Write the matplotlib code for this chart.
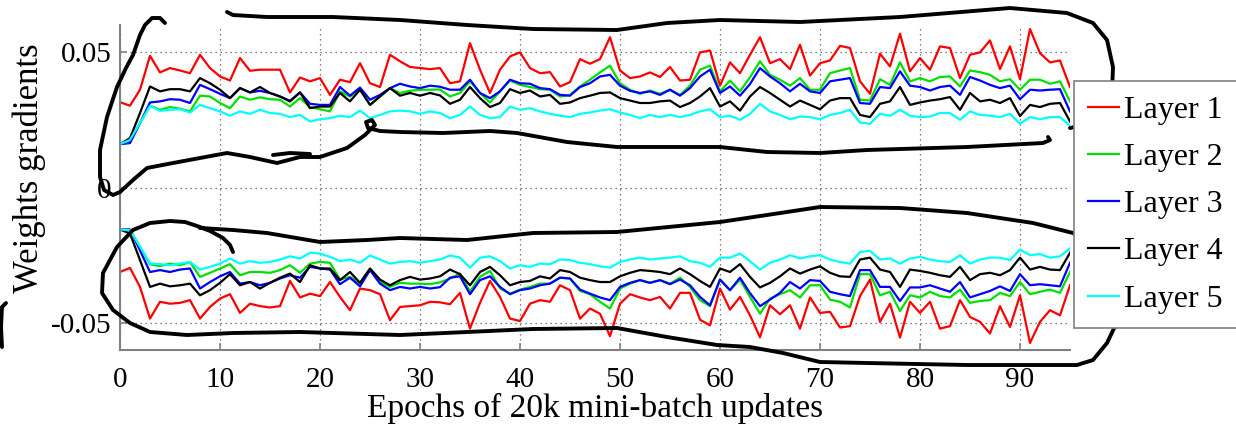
import numpy as np
import matplotlib
matplotlib.use("Agg")
import matplotlib.pyplot as plt
from matplotlib.lines import Line2D

plt.rcParams['font.family'] = ['Liberation Serif', 'DejaVu Serif']
plt.rcParams['axes.unicode_minus'] = False

# epochs 0..95, gradient values read in units of 1e-2
epochs = list(range(96))

layer1_pos = [3.15, 3.02, 3.61, 4.86, 4.25, 4.41, 4.32, 4.22, 4.90, 4.41,
              4.10, 3.95, 4.78, 4.31, 4.35, 4.35, 4.35, 3.51, 4.06, 3.92,
              4.04, 3.42, 3.98, 3.89, 4.59, 3.85, 3.71, 4.90, 4.66, 4.45,
              4.41, 4.37, 4.41, 3.85, 3.92, 5.33, 4.35, 3.49, 4.35, 4.84,
              4.99, 4.41, 4.22, 4.26, 3.73, 3.89, 4.74, 4.57, 4.74, 5.55,
              4.32, 4.04, 4.10, 4.25, 4.08, 4.45, 3.95, 3.98, 4.99, 5.06,
              3.76, 4.62, 4.22, 4.90, 5.55, 4.59, 4.74, 4.37, 5.27, 4.13,
              4.59, 4.69, 5.23, 5.15, 3.92, 3.46, 4.94, 4.47, 5.68, 4.29,
              4.78, 4.35, 5.21, 5.15, 4.04, 4.90, 4.99, 5.43, 4.37, 5.21,
              4.00, 5.85, 4.96, 4.62, 4.69, 3.71]
layer2_pos = [1.60, 1.70, 2.38, 3.02, 2.87, 2.97, 2.91, 2.81, 3.39, 3.36,
              3.12, 2.93, 3.36, 3.24, 3.33, 3.26, 3.24, 2.99, 3.30, 2.97,
              2.89, 2.81, 3.55, 3.36, 3.63, 3.05, 3.36, 3.67, 3.49, 3.57,
              3.61, 3.61, 3.62, 3.36, 3.49, 3.92, 3.49, 3.14, 3.55, 3.95,
              3.79, 3.71, 3.63, 3.61, 3.36, 3.42, 3.73, 3.98, 4.25, 4.50,
              3.85, 3.61, 3.46, 3.58, 3.46, 3.61, 3.42, 3.76, 4.35, 4.50,
              3.55, 3.95, 3.55, 4.07, 4.66, 4.16, 3.98, 3.76, 4.04, 3.61,
              3.61, 4.22, 4.32, 4.41, 3.24, 3.21, 4.00, 3.79, 4.62, 3.92,
              4.04, 3.92, 4.08, 4.10, 3.73, 4.32, 4.26, 4.16, 3.92, 4.00,
              3.61, 3.98, 3.98, 3.83, 3.92, 3.18]
layer3_pos = [1.60, 1.64, 2.38, 3.14, 3.18, 3.26, 3.24, 3.12, 3.79, 3.63,
              3.46, 3.30, 3.67, 3.51, 3.57, 3.49, 3.36, 3.20, 3.51, 3.09,
              3.05, 3.05, 3.71, 3.39, 3.69, 3.24, 3.42, 3.67, 3.83, 3.73,
              3.67, 3.76, 3.72, 3.61, 3.61, 3.98, 3.49, 3.30, 3.55, 3.98,
              3.85, 3.83, 3.67, 3.63, 3.42, 3.39, 3.71, 3.85, 4.10, 4.16,
              3.76, 3.57, 3.49, 3.55, 3.42, 3.61, 3.39, 3.67, 4.10, 4.35,
              3.49, 3.73, 3.39, 3.82, 4.41, 4.10, 3.85, 3.55, 3.83, 3.55,
              3.49, 3.92, 3.98, 4.04, 3.12, 3.09, 3.71, 3.67, 4.29, 3.76,
              3.71, 3.58, 3.71, 3.76, 3.42, 4.08, 3.95, 3.79, 3.67, 3.76,
              3.26, 3.61, 3.58, 3.61, 3.63, 2.81]
layer4_pos = [1.60, 1.82, 2.75, 3.73, 3.55, 3.63, 3.63, 3.55, 4.04, 3.85,
              3.61, 3.30, 3.67, 3.51, 3.71, 3.49, 3.36, 3.18, 3.51, 2.93,
              2.99, 2.99, 3.49, 3.18, 3.61, 3.05, 3.36, 3.67, 3.39, 3.49,
              3.39, 3.49, 3.40, 3.09, 3.24, 3.71, 3.30, 2.97, 3.12, 3.63,
              3.49, 3.58, 3.36, 3.42, 3.09, 3.14, 3.30, 3.39, 3.49, 3.51,
              3.30, 3.21, 3.12, 3.12, 3.18, 3.21, 2.97, 3.12, 3.36, 3.67,
              2.99, 3.18, 2.84, 3.36, 3.71, 3.49, 3.24, 2.99, 3.21, 3.05,
              2.89, 3.21, 3.30, 3.30, 2.68, 2.60, 3.09, 3.18, 3.71, 3.05,
              3.14, 3.21, 3.26, 3.34, 2.87, 3.49, 3.18, 3.24, 3.12, 3.30,
              2.64, 3.05, 2.97, 3.09, 3.12, 2.44]
layer5_pos = [1.60, 1.76, 2.38, 3.02, 2.83, 2.87, 2.89, 2.77, 3.05, 2.93,
              2.81, 2.65, 2.81, 2.72, 2.87, 2.75, 2.72, 2.60, 2.68, 2.44,
              2.52, 2.56, 2.65, 2.60, 2.84, 2.56, 2.68, 2.81, 2.84, 2.81,
              2.72, 2.81, 2.75, 2.56, 2.68, 2.99, 2.68, 2.56, 2.60, 2.99,
              2.87, 2.93, 2.81, 2.72, 2.65, 2.60, 2.72, 2.77, 2.84, 2.89,
              2.77, 2.68, 2.56, 2.68, 2.60, 2.68, 2.60, 2.68, 2.81, 2.89,
              2.60, 2.65, 2.50, 2.72, 3.09, 2.81, 2.68, 2.52, 2.62, 2.60,
              2.52, 2.68, 2.75, 2.87, 2.40, 2.35, 2.72, 2.65, 2.87, 2.65,
              2.60, 2.62, 2.75, 2.75, 2.50, 2.81, 2.68, 2.65, 2.60, 2.72,
              2.35, 2.60, 2.52, 2.60, 2.60, 2.28]

layer1_neg = [-3.12, -2.97, -3.67, -4.84, -4.22, -4.29, -4.26, -4.16, -4.84, -4.41,
              -4.10, -3.94, -4.63, -4.29, -4.38, -4.43, -4.38, -3.45, -4.06, -3.92,
              -4.01, -3.49, -4.04, -4.53, -3.73, -3.79, -3.94, -4.90, -4.41, -4.38,
              -4.35, -4.22, -4.24, -4.31, -3.89, -5.21, -4.26, -3.45, -4.04, -4.84,
              -4.93, -4.29, -4.16, -4.22, -3.61, -3.79, -4.84, -4.47, -4.66, -5.49,
              -4.29, -3.94, -4.06, -4.16, -4.04, -4.47, -3.89, -3.89, -4.88, -5.09,
              -3.73, -4.51, -4.04, -4.72, -5.53, -4.35, -4.68, -4.35, -5.21, -4.06,
              -4.63, -4.59, -5.17, -5.12, -4.01, -3.40, -4.96, -4.29, -5.54, -4.22,
              -4.63, -4.22, -5.21, -5.12, -4.16, -4.78, -4.96, -5.39, -4.38, -5.15,
              -3.98, -5.74, -4.96, -4.53, -4.72, -3.61]
layer2_neg = [-1.55, -1.58, -2.19, -2.84, -2.90, -2.81, -2.87, -2.75, -3.30, -3.15,
              -2.99, -2.83, -3.24, -3.12, -3.12, -3.15, -3.05, -2.87, -3.15, -2.81,
              -2.75, -2.78, -3.40, -3.30, -3.55, -3.03, -3.49, -3.67, -3.52, -3.55,
              -3.55, -3.57, -3.50, -3.36, -3.18, -3.85, -3.30, -3.08, -3.73, -3.92,
              -3.77, -3.67, -3.55, -3.55, -3.33, -3.36, -3.82, -3.94, -4.22, -4.47,
              -3.73, -3.55, -3.42, -3.52, -3.42, -3.55, -3.33, -3.67, -4.16, -4.38,
              -3.40, -3.79, -3.40, -4.04, -4.66, -4.10, -3.94, -3.79, -4.06, -3.61,
              -3.61, -4.14, -4.22, -4.43, -3.20, -3.20, -3.98, -3.85, -4.56, -3.98,
              -4.06, -3.85, -4.01, -4.06, -3.77, -4.26, -4.19, -4.16, -3.89, -4.01,
              -3.49, -3.94, -3.85, -3.77, -3.89, -3.12]
layer3_neg = [-1.55, -1.55, -2.32, -3.12, -3.05, -3.12, -3.03, -2.99, -3.73, -3.49,
              -3.28, -3.12, -3.55, -3.49, -3.61, -3.52, -3.36, -3.24, -3.33, -2.93,
              -2.99, -3.03, -3.57, -3.33, -3.65, -3.05, -3.55, -3.79, -3.67, -3.73,
              -3.67, -3.73, -3.68, -3.33, -3.28, -3.94, -3.42, -3.28, -3.67, -3.94,
              -3.79, -3.73, -3.61, -3.55, -3.33, -3.36, -3.77, -3.92, -4.06, -4.16,
              -3.67, -3.52, -3.42, -3.52, -3.42, -3.57, -3.40, -3.61, -4.04, -4.35,
              -3.40, -3.79, -3.33, -3.90, -4.38, -4.14, -3.89, -3.49, -3.73, -3.42,
              -3.45, -3.85, -3.94, -4.01, -3.05, -3.05, -3.67, -3.67, -4.19, -3.69,
              -3.69, -3.61, -3.73, -3.85, -3.49, -4.06, -3.94, -3.82, -3.65, -3.82,
              -3.20, -3.61, -3.57, -3.61, -3.65, -2.78]
layer4_neg = [-1.55, -1.70, -2.68, -3.67, -3.55, -3.65, -3.61, -3.55, -3.98, -3.79,
              -3.52, -3.20, -3.61, -3.49, -3.73, -3.52, -3.33, -3.18, -3.49, -2.87,
              -2.99, -2.99, -3.42, -3.12, -3.52, -2.99, -3.40, -3.61, -3.42, -3.30,
              -3.40, -3.36, -3.28, -3.03, -3.20, -3.61, -3.12, -2.93, -3.24, -3.61,
              -3.49, -3.45, -3.28, -3.36, -3.05, -3.12, -3.33, -3.42, -3.49, -3.49,
              -3.28, -3.15, -3.05, -3.08, -3.12, -3.20, -2.99, -3.20, -3.45, -3.67,
              -2.99, -3.12, -2.83, -3.30, -3.69, -3.52, -3.28, -2.99, -3.18, -3.03,
              -2.91, -3.15, -3.28, -3.30, -2.66, -2.59, -3.03, -3.12, -3.67, -3.03,
              -3.08, -3.15, -3.24, -3.30, -2.93, -3.42, -3.20, -3.15, -3.24, -3.05,
              -2.59, -3.03, -2.93, -3.03, -3.05, -2.41]
layer5_neg = [-1.55, -1.58, -2.19, -2.81, -2.83, -2.87, -2.81, -2.75, -3.03, -2.93,
              -2.81, -2.62, -2.81, -2.72, -2.78, -2.75, -2.66, -2.54, -2.62, -2.41,
              -2.44, -2.56, -2.72, -2.66, -2.78, -2.51, -2.66, -2.81, -2.75, -2.72,
              -2.78, -2.72, -2.66, -2.51, -2.59, -2.96, -2.59, -2.54, -2.72, -2.99,
              -2.87, -2.93, -2.81, -2.83, -2.66, -2.68, -2.78, -2.83, -2.91, -2.96,
              -2.75, -2.66, -2.59, -2.66, -2.62, -2.59, -2.54, -2.72, -2.78, -2.93,
              -2.59, -2.59, -2.44, -2.72, -3.03, -2.78, -2.66, -2.50, -2.62, -2.54,
              -2.50, -2.66, -2.75, -2.81, -2.38, -2.34, -2.66, -2.62, -2.81, -2.62,
              -2.56, -2.66, -2.72, -2.75, -2.50, -2.81, -2.66, -2.59, -2.59, -2.68,
              -2.29, -2.50, -2.46, -2.59, -2.54, -2.25]

labels = ['Layer 1', 'Layer 2', 'Layer 3', 'Layer 4', 'Layer 5']
colors = ['#ff0000', '#00e000', '#0000ff', '#000000', '#00ffff']
pos_series = [layer1_pos, layer2_pos, layer3_pos, layer4_pos, layer5_pos]
neg_series = [layer1_neg, layer2_neg, layer3_neg, layer4_neg, layer5_neg]

# hand drawn pen strokes on top of the figure (image pixel coords)
pen_top = [(227, 12), (233, 15), (267, 17), (333, 17), (400, 20), (467, 25), (533, 29),
           (617, 30), (667, 23), (720, 20), (800, 22), (900, 17), (1010, 8), (1067, 13),
           (1093, 23), (1107, 40), (1113, 67), (1112, 93), (1100, 113), (1083, 125), (1070, 128)]
pen_left = [(165, 23), (160, 18), (152, 18), (145, 25), (140, 35), (133, 55), (126, 68),
            (117, 87), (107, 117), (100, 150), (100, 177), (104, 190), (113, 195), (120, 192),
            (133, 180), (147, 168), (173, 163), (200, 158), (227, 153), (250, 157), (277, 163),
            (300, 157), (320, 157), (347, 148), (365, 135), (375, 125), (372, 120), (366, 122),
            (368, 128), (380, 131), (400, 132), (443, 133), (490, 131), (517, 133), (567, 142),
            (617, 147), (667, 147), (720, 147), (767, 152), (820, 153), (867, 150), (967, 147),
            (1043, 143), (1050, 140), (1048, 137)]
pen_short = [(273, 155), (290, 153), (310, 154)]
pen_bottom = [(233, 252), (230, 245), (223, 238), (210, 231), (200, 227), (185, 222), (170, 221),
              (150, 223), (133, 230), (117, 247), (103, 273), (102, 293), (113, 310), (130, 323),
              (150, 332), (187, 335), (233, 333), (300, 332), (333, 333), (400, 335), (467, 332),
              (533, 329), (617, 328), (667, 337), (717, 345), (750, 347), (783, 353), (820, 362),
              (867, 363), (967, 365), (1077, 365), (1093, 360), (1107, 343), (1118, 320),
              (1123, 287), (1117, 263), (1100, 247), (1073, 233), (1033, 223), (967, 213),
              (900, 208), (820, 207), (767, 215), (720, 222), (617, 232), (533, 233), (467, 240),
              (400, 238), (367, 240), (320, 242), (267, 233), (233, 230), (200, 228)]
pen_mark = [(6, 303), (2, 307), (1, 327), (2, 347)]

W, H = 1236, 429
fig = plt.figure(figsize=(W / 100, H / 100), dpi=100)
ax = fig.add_axes([120 / W, 1 - 350 / H, 950 / W, 325 / H])

x = np.array(epochs)
handles = []
for lab, col, p, n in zip(labels, colors, pos_series, neg_series):
    h, = ax.plot(x, np.array(p) / 100, color=col, lw=1.6, label=lab)
    ax.plot(x, np.array(n) / 100, color=col, lw=1.6)
    handles.append(h)

ax.set_xlim(0, 95)
ax.set_ylim(-0.06, 0.06)
ax.set_xticks(range(0, 100, 10))
ax.set_yticks([-0.05, 0, 0.05])
ax.set_yticklabels(['-0.05', '0', '0.05'])
ax.grid(True, linestyle=(0, (1, 3)), color='#555555', lw=0.9)
for s in ['top', 'right']:
    ax.spines[s].set_visible(False)
for s in ['left', 'bottom']:
    ax.spines[s].set_color('#808080')
    ax.spines[s].set_linewidth(1.5)
ax.tick_params(direction='in', length=5, width=1.2, color='#808080', labelsize=21)
ax.tick_params(axis='x', pad=12)
ax.tick_params(axis='y', pad=6)
ax.set_xlabel('Epochs of 20k mini-batch updates', fontsize=24, labelpad=0)
ax.set_ylabel('Weights gradients', fontsize=25)
ax.yaxis.set_label_coords(-0.078, 0.56)

leg = fig.legend(handles=handles, loc='upper left', bbox_to_anchor=(1074 / W, 1 - 81 / H),
                 fontsize=23, frameon=True, fancybox=False, framealpha=1,
                 handlelength=0.95, handletextpad=0.15, labelspacing=0.56,
                 borderpad=0.45, borderaxespad=0)
leg.get_frame().set_edgecolor('#808080')
leg.get_frame().set_linewidth(1.2)

for stroke in [pen_top, pen_left, pen_short, pen_bottom, pen_mark]:
    px = [p[0] / W for p in stroke]
    py = [1 - p[1] / H for p in stroke]
    fig.add_artist(Line2D(px, py, transform=fig.transFigure, color='black', lw=2.8,
                          solid_joinstyle='round', solid_capstyle='round'))

fig.savefig('out.png', dpi=100)
